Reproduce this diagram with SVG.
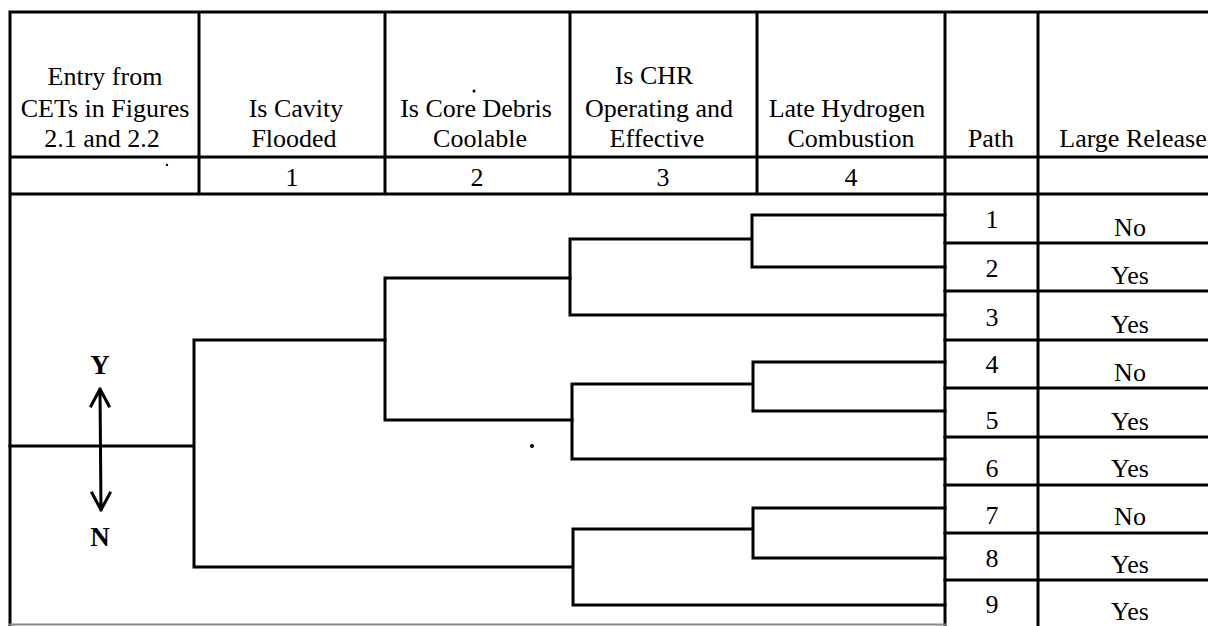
<svg xmlns="http://www.w3.org/2000/svg" width="1208" height="626" viewBox="0 0 1208 626">
<style>
.t{font-family:"Liberation Serif","Times New Roman",serif;font-size:26px;fill:#000;text-anchor:middle}
.b{font-weight:bold;font-size:27px}
.ln{stroke:#000;stroke-width:3;fill:none;stroke-linecap:square}
</style>
<rect width="1208" height="626" fill="#fff"/>
<g id="table" class="ln">
<path d="M10 12H1208M10 12V626M199 12V194M385 12V194M570 12V194M757 12V194M945 12V626M1038 12V626M10 157H1208M10 194H1208"/>
<path d="M945 243H1208M945 291H1208M945 340H1208M945 388H1208M945 437H1208M945 485H1208M945 533H1208M945 580H1208"/>
<path d="M10 624.5H945" stroke="#888" stroke-width="2"/>
</g>
<g id="header">
<text class="t" x="105" y="85">Entry from</text>
<text class="t" x="105" y="117">CETs in Figures</text>
<text class="t" x="102" y="147">2.1 and 2.2</text>
<text class="t" x="296" y="117">Is Cavity</text>
<text class="t" x="294" y="147">Flooded</text>
<text class="t" x="476" y="117">Is Core Debris</text>
<text class="t" x="480" y="147">Coolable</text>
<text class="t" x="654" y="84">Is CHR</text>
<text class="t" x="659" y="117">Operating and</text>
<text class="t" x="657" y="147">Effective</text>
<text class="t" x="847" y="117">Late Hydrogen</text>
<text class="t" x="851" y="147">Combustion</text>
<text class="t" x="991" y="147">Path</text>
<text class="t" x="1133" y="147">Large Release</text>
<text class="t" x="292" y="186">1</text>
<text class="t" x="477" y="186">2</text>
<text class="t" x="663" y="186">3</text>
<text class="t" x="851" y="186">4</text>
</g>
<g id="yn">
<text class="t b" x="100" y="374">Y</text>
<text class="t b" x="100" y="546">N</text>
<path class="ln" d="M100 389L101 510M91 406L100 389L109 406M92 493L101 510L110 493" stroke-width="3.5" stroke-linecap="round" stroke-linejoin="round"/>
</g>
<g id="connectors" class="ln">
<path d="M10 446H194M194 340V567M194 340H385M194 567H571"/>
<path d="M385 278V420M385 278H570M385 420H572"/>
<path d="M570 239V315M570 239H752M570 315H945M752 215V267M752 215H945M752 267H945"/>
<path d="M572 384V459M572 384H753M572 459H945M753 362V411M753 362H945M753 411H945"/>
<path d="M573 529V605M573 529H753M573 605H945M753 508V558M753 508H945M753 558H945"/>
</g>
<g id="paths">
<text class="t" x="992" y="228">1</text>
<text class="t" x="992" y="277">2</text>
<text class="t" x="992" y="326">3</text>
<text class="t" x="992" y="373">4</text>
<text class="t" x="992" y="429">5</text>
<text class="t" x="992" y="477">6</text>
<text class="t" x="992" y="524">7</text>
<text class="t" x="992" y="567">8</text>
<text class="t" x="992" y="613">9</text>
</g>
<g id="release">
<text class="t" x="1130" y="236">No</text>
<text class="t" x="1130" y="284">Yes</text>
<text class="t" x="1130" y="333">Yes</text>
<text class="t" x="1130" y="381">No</text>
<text class="t" x="1130" y="430">Yes</text>
<text class="t" x="1130" y="477">Yes</text>
<text class="t" x="1130" y="525">No</text>
<text class="t" x="1130" y="573">Yes</text>
<text class="t" x="1130" y="620">Yes</text>
</g>
<g id="specks" fill="#000">
<circle cx="532" cy="446" r="2"/>
<circle cx="474" cy="91" r="1.5"/>
<circle cx="167" cy="165" r="1.2"/>
</g>
</svg>
